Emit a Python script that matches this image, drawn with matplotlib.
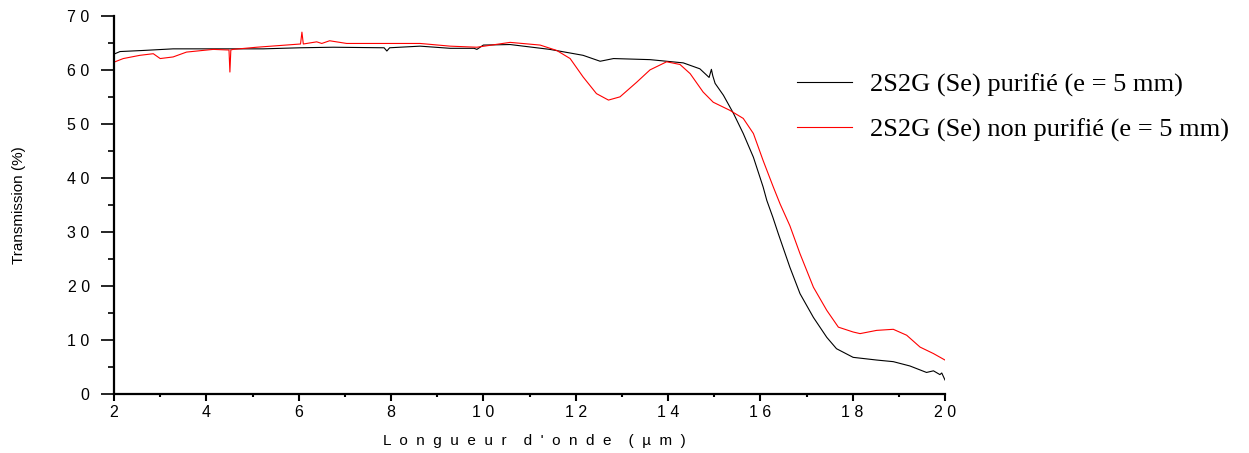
# spectres de transmission 2S2G (Se)
import numpy as np
import matplotlib.pyplot as plt
from matplotlib.ticker import MultipleLocator, FixedLocator

# data (wavelength in um, transmission in %)
wl_pur = [2.0, 2.02, 2.13, 2.63, 3.28, 3.86, 4.58, 5.23, 6.03, 6.75, 7.85, 7.91, 7.97,
          8.63, 9.28, 9.8, 9.86, 10.0, 10.58, 11.44, 12.16, 12.53, 12.82, 13.61, 14.33,
          14.69, 14.89, 14.94, 14.97, 15.02, 15.2, 15.42, 15.63, 15.85, 16.06, 16.14,
          16.27, 16.39, 16.64, 16.86, 17.15, 17.44, 17.65, 18.01, 18.52, 18.88, 19.24,
          19.6, 19.75, 19.89, 19.93, 20.0]
tr_pur = [63.0, 63.1, 63.5, 63.7, 64.0, 64.0, 64.0, 64.0, 64.2, 64.3, 64.2, 63.6, 64.2,
          64.5, 64.1, 64.1, 63.9, 64.7, 64.8, 63.9, 62.8, 61.7, 62.2, 62.0, 61.4,
          60.3, 58.7, 60.2, 59.0, 57.6, 55.4, 52.0, 48.3, 43.9, 38.4, 35.9,
          32.8, 29.7, 23.5, 18.6, 14.2, 10.5, 8.4, 6.8, 6.3, 6.0, 5.2,
          4.0, 4.3, 3.6, 3.9, 2.6]

wl_npur = [2.0, 2.02, 2.2, 2.56, 2.85, 3.0, 3.28, 3.57, 4.15, 4.44, 4.49, 4.51, 4.53,
           4.58, 5.09, 5.88, 6.04, 6.07, 6.1, 6.39, 6.5, 6.67, 7.04, 8.63, 9.28, 9.86,
           10.58, 11.23, 11.59, 11.88, 12.16, 12.45, 12.71, 12.96, 13.32, 13.61, 13.97,
           14.26, 14.48, 14.76, 14.98, 15.34, 15.63, 15.85, 16.06, 16.28, 16.43,
           16.64, 16.86, 17.15, 17.44, 17.69, 18.01, 18.16, 18.52, 18.88, 19.17, 19.46,
           19.75, 20.0]
tr_npur = [61.5, 61.6, 62.2, 62.8, 63.1, 62.2, 62.5, 63.4, 63.9, 63.8, 63.8, 59.7, 63.8,
           63.9, 64.3, 64.8, 64.9, 67.1, 64.9, 65.3, 65.0, 65.5, 65.0, 65.0, 64.5, 64.3,
           65.2, 64.7, 63.7, 62.2, 58.8, 55.7, 54.5, 55.1, 57.8, 60.1, 61.6,
           61.1, 59.4, 56.0, 54.1, 52.6, 51.1, 48.3, 43.3, 38.4, 35.2,
           31.2, 26.0, 19.8, 15.5, 12.4, 11.5, 11.2, 11.8, 12.0, 10.9, 8.7,
           7.5, 6.3]

labels = ['2S2G (Se) purifié (e = 5 mm)', '2S2G (Se) non purifié (e = 5 mm)']
xticks = [2, 4, 6, 8, 10, 12, 14, 16, 18, 20]
yticks = [0, 10, 20, 30, 40, 50, 60, 70]

fig = plt.figure(figsize=(12.49, 4.53), dpi=100)
ax = fig.add_axes([0.0913, 0.1302, 0.6653, 0.8334])

ax.plot(wl_pur, tr_pur, color='black', lw=0.8, label=labels[0])
ax.plot(wl_npur, tr_npur, color='red', lw=0.8, label=labels[1])

ax.set_xlim(2, 20)
ax.set_ylim(0, 70)

# spaced digits like the original
ax.xaxis.set_major_locator(FixedLocator(xticks))
ax.set_xticklabels([' '.join(str(t)) for t in xticks], fontname='Liberation Sans', fontsize=11.5)
ax.yaxis.set_major_locator(FixedLocator(yticks))
ax.set_yticklabels([' '.join(str(t)) for t in yticks], fontname='Liberation Sans', fontsize=11.5)
ax.xaxis.set_minor_locator(MultipleLocator(1))
ax.yaxis.set_minor_locator(MultipleLocator(5))

ax.tick_params(axis='y', which='major', direction='out', length=9.5, width=1.2, pad=8)
ax.tick_params(axis='y', which='minor', direction='out', length=4.5, width=1.2)
ax.tick_params(axis='x', which='major', direction='out', length=5, width=1.5, pad=3)
ax.tick_params(axis='x', which='minor', direction='out', length=2.5, width=1.5)

for s in ['top', 'right']:
    ax.spines[s].set_visible(False)
for s in ['left', 'bottom']:
    ax.spines[s].set_linewidth(1.6)

ax.set_ylabel('Transmission (%)', fontname='Liberation Sans', fontsize=11)
ax.yaxis.set_label_coords(-0.106, 0.5)
ax.set_xlabel('L  o  n  g  u  e  u  r    d  \'  o  n  d  e    (  µ  m  )',
              fontname='Liberation Sans', fontsize=11)
ax.xaxis.set_label_coords(0.506, -0.105)

ax.legend(loc='upper left', bbox_to_anchor=(0.638, 0.839), bbox_transform=fig.transFigure,
          frameon=False, prop={'family': 'Liberation Serif', 'size': 19},
          handlelength=2.08, handletextpad=0.68, labelspacing=0.81, borderpad=0,
          borderaxespad=0)

fig.savefig('out.png', dpi=100)
